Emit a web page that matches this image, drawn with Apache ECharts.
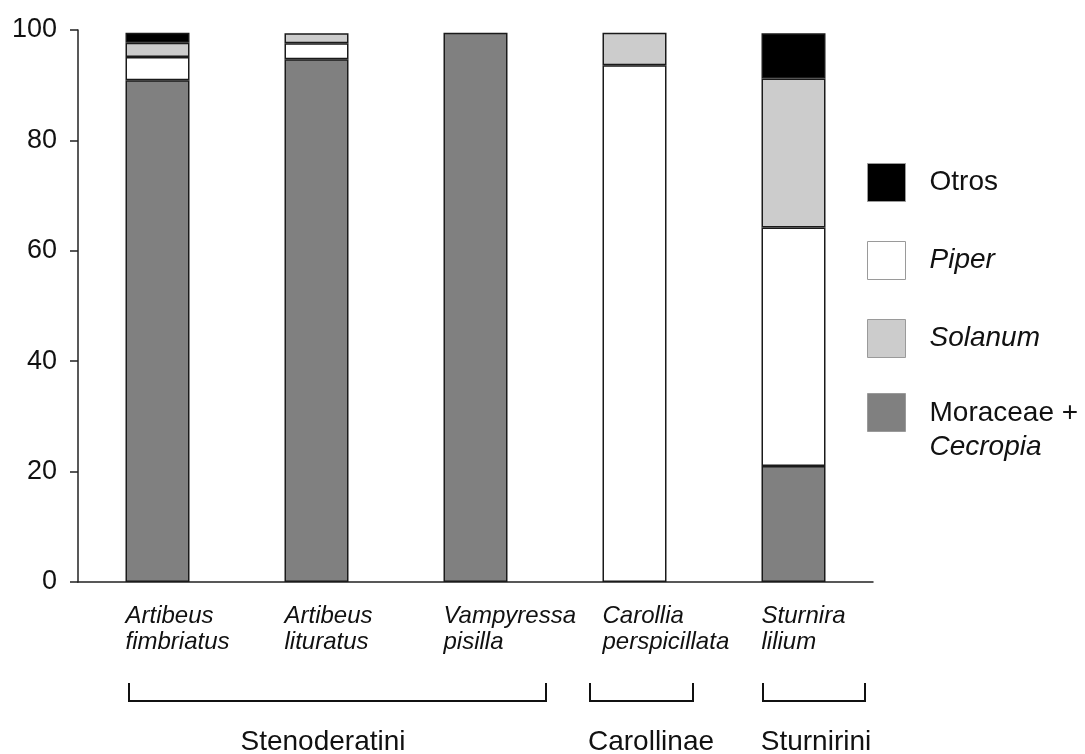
<!DOCTYPE html>
<html><head><meta charset="utf-8">
<script src="https://cdn.jsdelivr.net/npm/echarts@6/dist/echarts.min.js"></script>
<style>html,body{margin:0;padding:0;background:#fff}#c{width:1085px;height:754px}</style>
</head><body><div id="c"></div>
<script>
// ---- data ----
const categories = ['Artibeus fimbriatus', 'Artibeus lituratus', 'Vampyressa pisilla', 'Carollia perspicillata', 'Sturnira lilium'];
const moraceae = [90.9, 94.7, 99.5, null, 21.0];
const piper    = [4.2, 2.9, null, 93.6, 43.2];
const solanum  = [2.6, 1.8, null, 5.9, 27.0];
const otros    = [1.8, null, null, null, 8.2];
const yMin = 0, yMax = 100, yStep = 20;
const groupNames = ['Stenoderatini', 'Carollinae', 'Sturnirini'];
const seriesNames = ['Moraceae + Cecropia', 'Piper', 'Solanum', 'Otros'];

// ---- layout / style ----
const FONT = '"Liberation Sans", Arial, sans-serif';
const INK = '#111';
const bracketSpans = [[129, 546], [590, 693], [763, 865]];
const groupLabelX = [323, 651, 816];
const bracketTop = 683, bracketBottom = 701, groupLabelY = 742;

const barStyle = (color) => ({ color: color, borderColor: '#1a1a1a', borderWidth: 1.5 });

const chart = echarts.init(document.getElementById('c'), null, { renderer: 'canvas' });

const graphics = [];
bracketSpans.forEach(([a, b]) => {
  graphics.push({
    type: 'polyline',
    shape: { points: [[a, bracketTop], [a, bracketBottom], [b, bracketBottom], [b, bracketTop]] },
    style: { stroke: INK, lineWidth: 2, fill: null }
  });
});
groupNames.forEach((g, i) => {
  graphics.push({
    type: 'text', x: groupLabelX[i], y: groupLabelY,
    style: { text: g, font: '28px ' + FONT, fill: INK, align: 'center', verticalAlign: 'middle' }
  });
});

const legendRich = {
  n: { fontSize: 28, fontFamily: FONT, color: INK, lineHeight: 34 },
  i: { fontSize: 28, fontFamily: FONT, color: INK, fontStyle: 'italic', lineHeight: 34 }
};

chart.setOption({
  backgroundColor: '#fff',
  animation: false,
  grid: { left: 78, top: 30, width: 795, height: 552, outerBoundsMode: 'none', containLabel: false },
  xAxis: {
    type: 'category',
    data: categories,
    axisLine: { show: true, lineStyle: { color: '#222', width: 1.5 } },
    axisTick: { show: false },
    axisLabel: {
      interval: 0,
      margin: 21,
      width: 64,
      overflow: 'none',
      align: 'center',
      formatter: (v) => v.split(' ').map(w => '{a|' + w + '}').join('\n'),
      rich: { a: { align: 'left', fontSize: 24, fontStyle: 'italic', fontFamily: FONT, color: INK, lineHeight: 26 } }
    },
    splitLine: { show: false }
  },
  yAxis: {
    type: 'value', min: yMin, max: yMax, interval: yStep,
    axisLine: { show: true, lineStyle: { color: '#222', width: 1.5 } },
    axisTick: { show: true, length: 8, inside: false, lineStyle: { color: '#222', width: 1.5 } },
    axisLabel: { margin: 21, fontSize: 27, fontFamily: FONT, color: INK },
    splitLine: { show: false }
  },
  legend: [
    {
      data: ['Otros', 'Piper', 'Solanum'],
      orient: 'vertical', left: 867, top: 163, padding: 0,
      itemWidth: 38, itemHeight: 38, itemGap: 39,
      icon: 'rect', selectedMode: false,
      itemStyle: { borderColor: '#9a9a9a', borderWidth: 1 },
      formatter: (name) => name === 'Otros' ? '{n|' + name + '}' : '{i|' + name + '}',
      textStyle: { padding: [0, 0, 0, 19], rich: legendRich }
    },
    {
      data: ['Moraceae + Cecropia'],
      orient: 'vertical', left: 867, top: 393, padding: 0,
      itemWidth: 38, itemHeight: 38,
      icon: 'rect', selectedMode: false,
      itemStyle: { borderColor: '#9a9a9a', borderWidth: 1 },
      formatter: () => '{n|Moraceae +}\n{i|Cecropia}',
      textStyle: { padding: [36, 0, 0, 19], rich: legendRich }
    }
  ],
  series: [
    { name: seriesNames[0], type: 'bar', stack: 'diet', barWidth: 64, data: moraceae, itemStyle: barStyle('#808080') },
    { name: seriesNames[1], type: 'bar', stack: 'diet', barWidth: 64, data: piper, itemStyle: barStyle('#ffffff') },
    { name: seriesNames[2], type: 'bar', stack: 'diet', barWidth: 64, data: solanum, itemStyle: barStyle('#cccccc') },
    { name: seriesNames[3], type: 'bar', stack: 'diet', barWidth: 64, data: otros, itemStyle: barStyle('#000000') }
  ],
  graphic: graphics
});
</script>
</body></html>
